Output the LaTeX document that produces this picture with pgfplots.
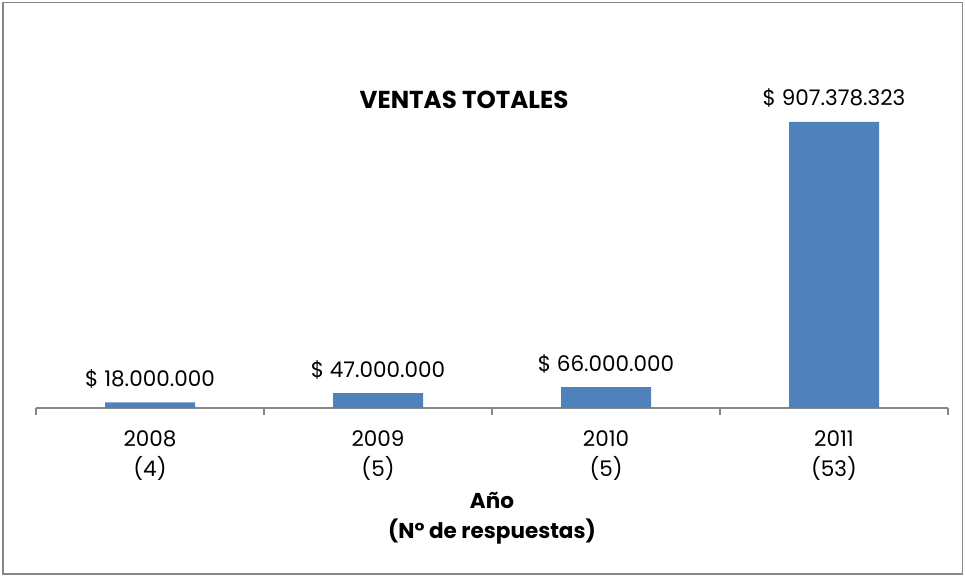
\documentclass[border=0pt]{standalone}
\usepackage{fontspec}
\setmainfont{Poppins}
\usepackage{pgfplots}
\pgfplotsset{compat=1.18}
\definecolor{barblue}{HTML}{4F81BD}
\definecolor{axgray}{HTML}{868686}
\begin{document}
\begin{tikzpicture}[x=1bp,y=1bp]
\useasboundingbox (0,0) rectangle (965,577);
\draw[axgray, line width=1.5bp] (2.75,2.75) rectangle (962.25,574.25);
\begin{axis}[
  at={(36bp,169bp)}, anchor=south west,
  scale only axis, width=912bp, height=315.2bp,
  xmin=-0.5, xmax=3.5, ymin=0, ymax=1000000000,
  clip=false,
  axis y line=none, axis x line*=bottom,
  x axis line style={axgray, line width=1.2bp, -},
  tick align=outside,
  xtick={0,1,2,3},
  xticklabels={{2008\\(4)},{2009\\(5)},{2010\\(5)},{2011\\(53)}},
  major tick length=0bp,
  x tick style={axgray, line width=1.2bp},
  extra x ticks={-0.5,0.5,1.5,2.5,3.5},
  extra x tick labels={},
  extra x tick style={major tick length=7bp},
  xticklabel style={align=center, font=\fontsize{21.5bp}{30bp}\selectfont, text=black, yshift=-19bp},
  nodes near coords,
  point meta=explicit symbolic,
  every node near coord/.append style={font=\fontsize{21.5bp}{24bp}\selectfont, anchor=base, inner sep=0pt, yshift=16bp, text=black},
]
\addplot[ybar, bar width=90bp, fill=barblue, draw=none] coordinates {
  (0,18000000) [\$ 18.000.000]
  (1,47000000) [\$ 47.000.000]
  (2,66000000) [\$ 66.000.000]
  (3,907378323) [\$ 907.378.323]
};
\end{axis}
\node[font=\bfseries\fontsize{24.5bp}{28bp}\selectfont] at (464,477) {VENTAS TOTALES};
\node[align=center, font=\bfseries\fontsize{21.5bp}{30bp}\selectfont] at (492,59) {Año\\(N° de respuestas)};
\end{tikzpicture}
\end{document}
